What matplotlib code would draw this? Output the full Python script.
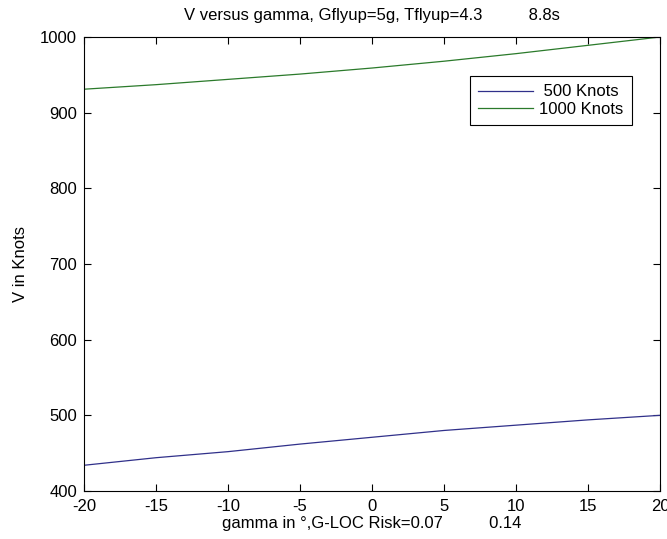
import matplotlib
matplotlib.use("Agg")
import matplotlib.pyplot as plt

# values at 5 degree steps
gamma = [-20, -15, -10, -5, 0, 5, 10, 15, 20]
v_500 = [434, 444, 452, 462, 471, 480, 487, 494, 500]
v_1000 = [931, 937, 944, 951, 959, 968, 978, 989, 1000]
labels = [" 500 Knots", "1000 Knots"]
xticks = [-20, -15, -10, -5, 0, 5, 10, 15, 20]
yticks = [400, 500, 600, 700, 800, 900, 1000]

plt.rcParams["font.family"] = ["Liberation Sans", "DejaVu Sans"]
plt.rcParams["font.size"] = 12

fig = plt.figure(figsize=(6.67, 5.39), dpi=100)
ax = fig.add_axes([84 / 667, 48 / 539, 576 / 667, 454 / 539])

ax.plot(gamma, v_500, color="#30308a", lw=0.9, label=labels[0])
ax.plot(gamma, v_1000, color="#2b7a2b", lw=0.9, label=labels[1])

ax.set_xlim(-20, 20)
ax.set_ylim(400, 1000)
ax.set_xticks(xticks)
ax.set_yticks(yticks)
ax.set_xticklabels([str(t) for t in xticks])
ax.tick_params(direction="in", length=5, width=0.8, top=True, right=True)
ax.tick_params(axis="x", pad=6)
ax.tick_params(axis="y", pad=5)
for s in ax.spines.values():
    s.set_linewidth(0.8)

ax.set_title("V versus gamma, Gflyup=5g, Tflyup=4.3" + " " * 10 + "8.8s", fontsize=12, pad=12)
ax.set_xlabel("gamma in \u00b0,G-LOC Risk=0.07" + " " * 10 + "0.14", labelpad=1)
ax.set_ylabel("V in Knots", labelpad=9)

leg = ax.legend(loc="upper right", bbox_to_anchor=(0.951, 0.914), borderaxespad=0,
                fancybox=False, framealpha=1, edgecolor="black", handlelength=3.3,
                handletextpad=0.35, labelspacing=0.15, borderpad=0.5)
leg.get_frame().set_linewidth(0.8)

fig.savefig("out.png", dpi=100)
